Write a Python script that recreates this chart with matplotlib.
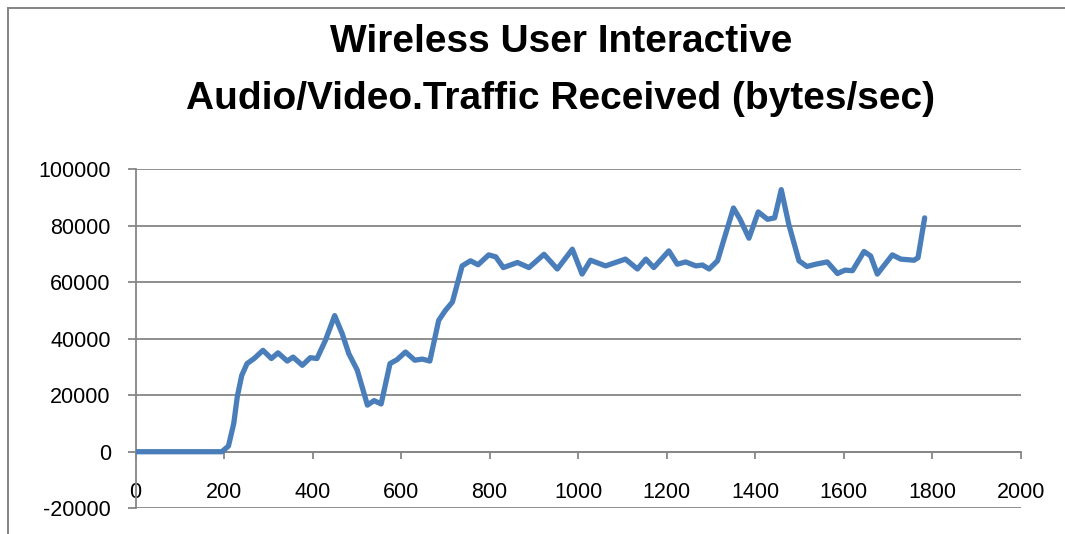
import matplotlib
matplotlib.use("Agg")
import matplotlib.pyplot as plt
from matplotlib.patches import Rectangle

# Data (time in seconds, bytes/sec)
time_s = [0, 50, 100, 150, 195, 210, 222, 230, 240, 252, 268, 288, 307, 322, 343,
          356, 377, 395, 410, 429, 450, 467, 482, 501, 524, 539, 555, 575, 591,
          610, 631, 648, 665, 685, 700, 716, 738, 757, 774, 798, 814, 831, 863,
          889, 923, 953, 987, 1009, 1028, 1062, 1107, 1134, 1153, 1171, 1205,
          1224, 1243, 1266, 1281, 1296, 1315, 1351, 1366, 1386, 1407, 1428, 1444,
          1459, 1476, 1499, 1517, 1537, 1563, 1586, 1603, 1620, 1646, 1661, 1676,
          1710, 1729, 1759, 1768, 1783]
traffic = [0, 0, 0, 0, 0, 2000, 10000, 19500, 27000, 31200, 33000, 35900, 33000,
           35000, 32100, 33500, 30600, 33300, 33000, 39400, 48200, 41800, 34700,
           28900, 16500, 18100, 16900, 31200, 32600, 35300, 32400, 32800, 32100,
           46500, 50000, 53000, 65800, 67600, 66200, 69700, 69000, 65200, 67000,
           65200, 69900, 64700, 71700, 62900, 67800, 65800, 68200, 64700, 68200,
           65200, 71100, 66400, 67200, 65800, 66100, 64700, 67600, 86300, 82300,
           75600, 84900, 82300, 82800, 92800, 80500, 67600, 65600, 66400, 67200,
           63100, 64300, 64100, 70900, 69300, 62900, 69700, 68200, 67800, 68700,
           82800]

x_ticks = [0, 200, 400, 600, 800, 1000, 1200, 1400, 1600, 1800, 2000]
y_ticks = [-20000, 0, 20000, 40000, 60000, 80000, 100000]
title_lines = ["Wireless User Interactive", "Audio/Video.Traffic Received (bytes/sec)"]

W, H, DPI = 1065, 534, 100
fig = plt.figure(figsize=(W / DPI, H / DPI), dpi=DPI)
plt.rcParams['font.family'] = ['Liberation Sans', 'DejaVu Sans']
plt.rcParams['axes.unicode_minus'] = False

grey = '#868686'
px = 72 / DPI  # points per pixel

# outer chart frame (left and top edges visible)
fig.patches.append(Rectangle((8 / W, -0.1), 1.2, 1.1 - 8 / H,
                             transform=fig.transFigure, fill=False,
                             edgecolor=grey, linewidth=2 * px))

ax = fig.add_axes([135.5 / W, (H - 508.2) / H, (1020.7 - 135.5) / W, (508.2 - 169.3) / H])
ax.set_xlim(0, 2000)
ax.set_ylim(-20000, 100000)
ax.set_xticks(x_ticks)
ax.set_yticks(y_ticks)
ax.yaxis.grid(True, color=grey, linewidth=1.3)
ax.set_axisbelow(True)

for s in ['top', 'right']:
    ax.spines[s].set_visible(False)
ax.spines['bottom'].set_position(('data', 0))
for s in ['left', 'bottom']:
    ax.spines[s].set_color(grey)
    ax.spines[s].set_linewidth(1.3)

ax.tick_params(axis='y', length=8 * px, width=1.3, color=grey, pad=12,
               labelsize=15.5, labelcolor='black')
ax.tick_params(axis='x', length=7 * px, width=1.3, color=grey, pad=17,
               labelsize=15.5, labelcolor='black')

ax.plot(time_s, traffic, color='#4A7EBB', linewidth=3.8,
        solid_joinstyle='round', solid_capstyle='round', zorder=3)

fig.text(561 / W, 1 - 42 / H, title_lines[0], ha='center', va='center',
         fontsize=28, fontweight='bold')
fig.text(561 / W, 1 - 99 / H, title_lines[1], ha='center', va='center',
         fontsize=28, fontweight='bold')

fig.savefig('out.png', dpi=DPI)
